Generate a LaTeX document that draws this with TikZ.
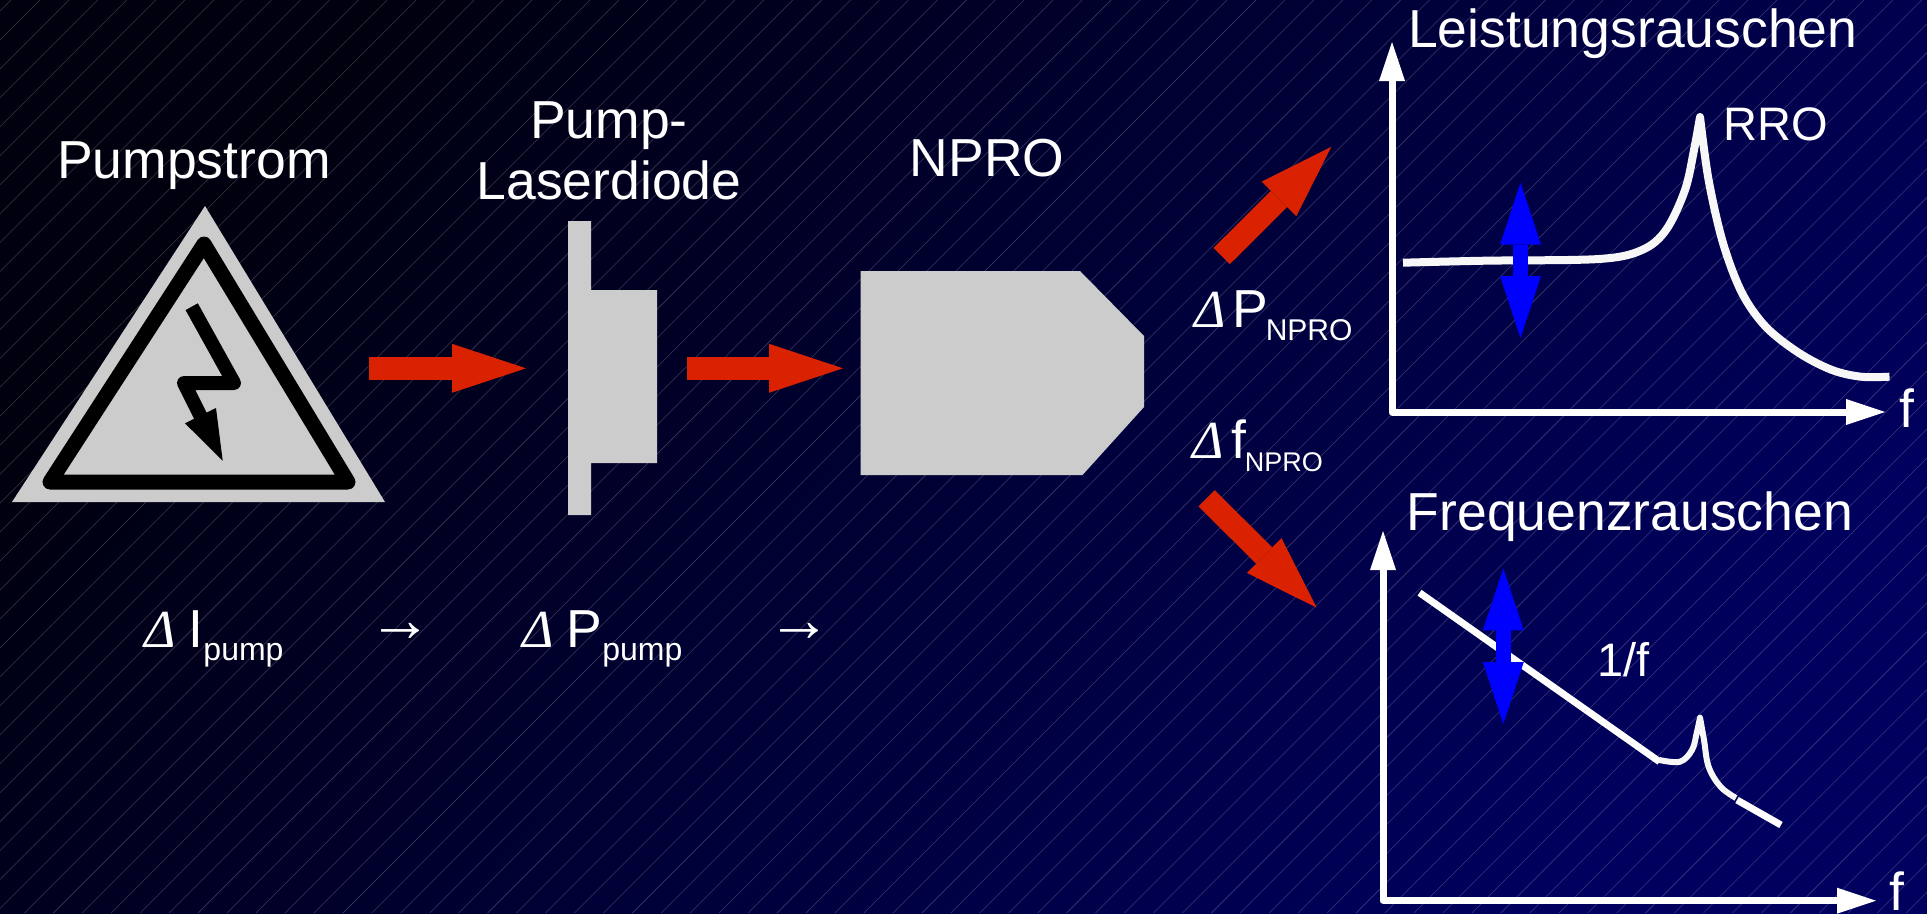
\documentclass[tikz,border=0pt]{standalone}
\usepackage{fontspec}
\setmainfont{Liberation Sans}
\newfontfamily\deltafont{Liberation Serif}
\usetikzlibrary{arrows.meta}
\definecolor{bgdark}{RGB}{0,0,14}
\definecolor{bgblue}{RGB}{0,0,94}
\definecolor{partgray}{RGB}{204,204,204}
\definecolor{arrowred}{RGB}{219,34,0}
\newcommand{\dlt}{{\deltafont\itshape Δ}}
\newcommand{\lowtext}[2]{\raisebox{-13pt}{\fontsize{#1}{#1}\selectfont #2}}
\tikzset{
  title/.style={text=white, inner sep=0pt, font=\fontsize{53.5}{61}\selectfont},
  midtext/.style={text=white, inner sep=0pt, font=\fontsize{47}{50}\selectfont},
  part/.style={fill=partgray},
  redarrow/.style={draw=arrowred, line width=23pt, -{Triangle[length=74pt,width=49pt,line width=0pt,fill=arrowred]}},
  bluearrow/.style={draw=blue, line width=14.5pt, {Triangle[length=62pt,width=41pt,line width=0pt,fill=blue]}-{Triangle[length=62pt,width=41pt,line width=0pt,fill=blue]}},
  axisline/.style={draw=white, line width=7pt, line join=round, {Triangle[length=39pt,width=26pt,line width=0pt,fill=white]}-{Triangle[length=39pt,width=26pt,line width=0pt,fill=white]}},
  noiseline/.style={draw=white!94!gray, line width=8pt, line join=round},
  arrowtext/.style={text=white, inner sep=0pt, font=\deltafont\fontsize{64}{64}\selectfont}
}
\begin{document}
\begin{tikzpicture}[x=1pt,y=-1pt]
\useasboundingbox (0,0) rectangle (1927,913);
\shade [left color=bgdark, right color=bgblue, shading angle=50] (0,0) rectangle (1927,913);
\begin{scope}
\clip (0,0) rectangle (1927,913);
\foreach \k in {0,...,98} {
  \pgfmathsetmacro{\c}{11+28.95*\k}
  \draw [white, opacity=0.22, line width=0.55pt] (\c,0) -- (\c-913,913);
}
\end{scope}

\fill [part] (205,206) -- (385,502) -- (12,502) -- cycle;
\draw [black, line width=15pt, line join=round] (204,244) -- (348,482) -- (50,482) -- cycle;
\draw [black, line width=14pt, line join=round] (191.7,306.7) -- (234,383) -- (184,383) -- (201,417);
\fill [black] (185,423.3) -- (216,408) -- (222.7,460.7) -- cycle;
\fill [part] (568,221) -- (591,221) -- (591,290) -- (657,290) -- (657,463) -- (591,463) -- (591,515) -- (568,515) -- cycle;
\fill [part] (860.5,271) -- (1080,271) -- (1144,336) -- (1144,407) -- (1082.5,475) -- (860.5,475) -- cycle;

\coordinate (pumpfrom) at (369,368.3);
\coordinate (pumpto) at (526,368.3);
\coordinate (diodefrom) at (686.5,368.3);
\coordinate (diodeto) at (843,368.3);
\coordinate (powerfrom) at (1221.7,256);
\coordinate (powerto) at (1331.4,146.7);
\coordinate (freqfrom) at (1206.6,498.3);
\coordinate (freqto) at (1316.7,607.7);
\draw [redarrow] (pumpfrom) -- (pumpto);
\draw [redarrow] (diodefrom) -- (diodeto);
\draw [redarrow] (powerfrom) -- (powerto);
\draw [redarrow] (freqfrom) -- (freqto);

\node [title, anchor=base] (pumpstrom) at (194,178) {Pumpstrom};
\node [title, anchor=south, align=center] (laserdiode) at (609,200) {Pump-\\Laserdiode};
\node [title, anchor=base] (npro) at (987,176.7) {NPRO};

\node [title, anchor=base west] (dI) at (144,647.3) {\dlt\hspace{13pt}I\lowtext{32}{pump}};
\node [title, anchor=base west] (dP) at (522,647.3) {\dlt\hspace{13pt}P\lowtext{32}{pump}};
\node [title, anchor=base west] (dPn) at (1194,327) {\dlt\hspace{6.5pt}P\hspace{-2pt}\lowtext{30}{NPRO}};
\node [title, anchor=base west] (dfn) at (1192,458.3) {\dlt\hspace{7.5pt}f\hspace{-1pt}\lowtext{27}{NPRO}};
\node [arrowtext] (arrowI) at (400,632) {→};
\node [arrowtext] (arrowP) at (799,632) {→};

\coordinate (powertop) at (1392,42);
\coordinate (powerorig) at (1392,412);
\coordinate (powerend) at (1885,412);
\draw [axisline] (powertop) -- (powerorig) -- (powerend);
\draw [noiseline] plot [smooth, tension=0.55] coordinates {(1403,262.7) (1485,260.7) (1599,259) (1642,250) (1666,230) (1685,190) (1694,150) (1700,117)}
  -- plot [smooth, tension=0.55] coordinates {(1700,117) (1708.6,180) (1723,243) (1742,293) (1766,327) (1799,353) (1832,370) (1861,376.7) (1889.5,376.7)};
\coordinate (powerup) at (1520.5,182.7);
\coordinate (powerdown) at (1520.5,338);
\draw [bluearrow] (powerup) -- (powerdown);
\node [title, anchor=base west] (powertitle) at (1408,47.7) {Leistungsrauschen};
\node [midtext, anchor=base west] (rro) at (1723,140) {RRO};
\node [title, anchor=base west] (fpower) at (1899,427) {f};

\coordinate (freqtop) at (1383,531);
\coordinate (freqorig) at (1383,900.7);
\coordinate (freqend) at (1876,900.7);
\draw [axisline] (freqtop) -- (freqorig) -- (freqend);
\coordinate (slopeA) at (1419.5,592.7);
\coordinate (slopeB) at (1659.5,761.7);
\coordinate (slopeC) at (1737,800);
\coordinate (slopeD) at (1781,825);
\draw [white, line width=7pt] (slopeA) -- (slopeB);
\draw [white, line width=7pt] (slopeC) -- (slopeD);
\draw [noiseline, line width=6pt] plot [smooth, tension=0.6] coordinates {(1659.5,760) (1680,761.7) (1692,750) (1696.7,733) (1700,717.7)}
  -- plot [smooth, tension=0.6] coordinates {(1700,717.7) (1704,740) (1708.6,766.7) (1720.5,786.7) (1736,798)};
\coordinate (frequp) at (1503.3,568.3);
\coordinate (freqdown) at (1503.3,724);
\draw [bluearrow] (frequp) -- (freqdown);
\node [title, anchor=base west] (freqtitle) at (1406.6,530) {Frequenzrauschen};
\node [midtext, anchor=base west] (onef) at (1597,676) {1/f};
\node [title, anchor=base west] (ffreq) at (1889.5,910) {f};
\end{tikzpicture}
\end{document}
